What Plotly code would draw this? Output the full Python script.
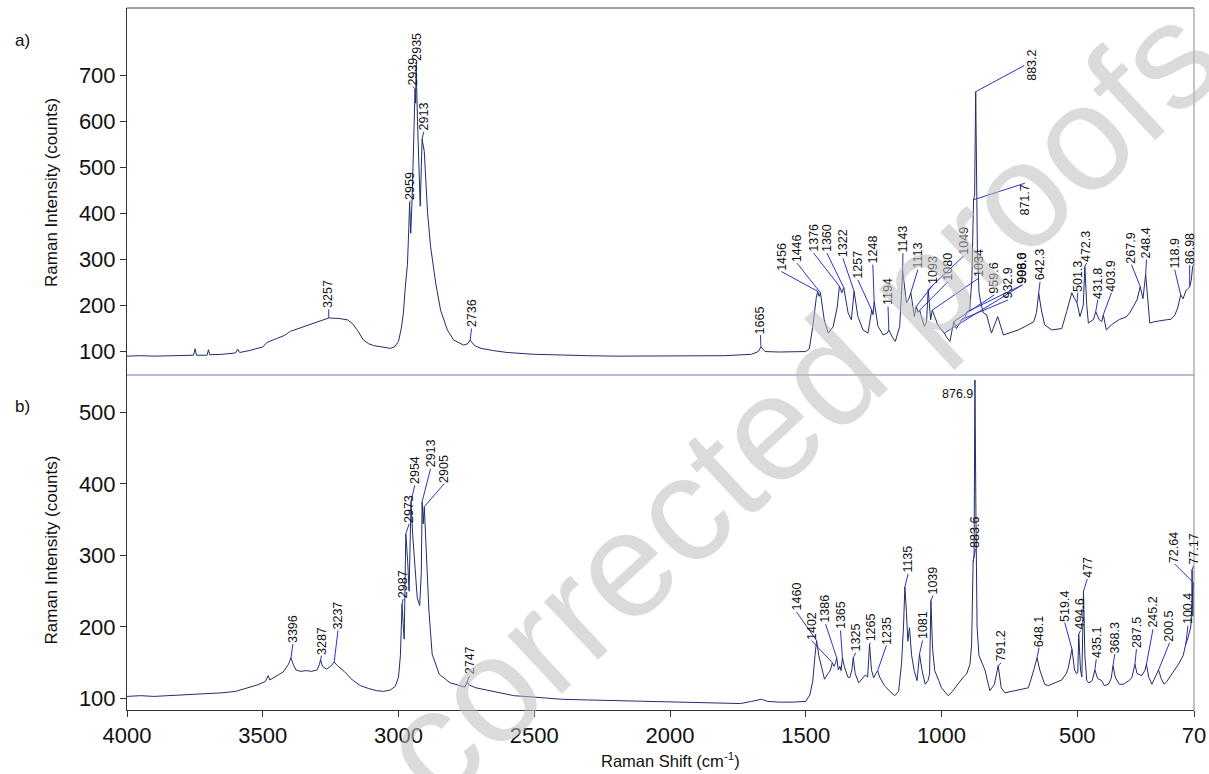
import plotly.graph_objects as go

# ---------------- spectrum a (top) ----------------
shift_a = [4000, 3950, 3900, 3850, 3800, 3755, 3749, 3744, 3705, 3700, 3695, 3650, 3600, 3592, 3585,
           3550, 3500, 3484, 3450, 3420, 3398, 3370, 3340, 3300, 3257, 3220, 3188, 3170, 3151, 3129,
           3110, 3092, 3060, 3030, 3015, 3000, 2990, 2982, 2975, 2967, 2962, 2959, 2955, 2950, 2944,
           2939, 2937, 2935, 2930, 2925, 2920, 2916, 2913, 2905, 2893, 2882, 2863, 2845, 2820, 2797,
           2760, 2745, 2736, 2720, 2697, 2650, 2600, 2500, 2400, 2300, 2200, 2100, 2000, 1900, 1800,
           1700, 1675, 1665, 1650, 1600, 1550, 1500, 1487, 1474, 1461, 1456, 1451, 1446, 1432, 1417,
           1399, 1384, 1376, 1367, 1360, 1344, 1332, 1322, 1308, 1289, 1271, 1257, 1252, 1248, 1234,
           1215, 1200, 1194, 1180, 1170, 1154, 1147, 1143, 1129, 1120, 1113, 1100, 1093, 1086, 1080,
           1074, 1063, 1055, 1049, 1040, 1034, 1015, 1000, 990, 980, 969, 955, 945, 935, 925,
           915, 907, 896, 888, 882, 878, 874, 868, 862, 855, 846, 834, 816, 793, 772,
           745, 717, 690, 660, 650, 642, 632, 620, 594, 557, 539, 520, 510, 501, 490,
           478, 472, 465, 459, 440, 432, 420, 410, 404, 393, 370, 344, 320, 307, 290,
           280, 268, 258, 248, 240, 233, 215, 190, 172, 155, 140, 130, 119, 110, 100,
           90, 86, 80, 75, 70]
int_a = [90, 91, 90, 91, 91, 92, 106, 92, 92, 104, 93, 94, 97, 105, 98,
         102, 110, 120, 128, 135, 144, 150, 157, 164, 173, 172, 169, 161, 146, 125,
         117, 113, 110, 107, 110, 122, 150, 183, 240, 290, 370, 424, 357, 430, 560,
         671, 640, 722, 600, 480, 416, 500, 562, 535, 402, 329, 249, 190, 147, 125,
         114, 117, 125, 113, 107, 102, 98, 94, 92, 91, 90, 90, 90, 90, 91,
         94, 100, 110, 100, 99, 99, 100, 106, 155, 218, 231, 220, 228, 169, 140,
         154, 197, 242, 228, 239, 184, 169, 231, 176, 147, 140, 190, 180, 209, 155,
         136, 140, 147, 130, 122, 155, 220, 275, 206, 215, 228, 176, 198, 185, 190,
         175, 155, 165, 235, 169, 190, 160, 147, 140, 130, 122, 165, 150, 160, 170,
         172, 186, 190, 260, 430, 440, 665, 330, 230, 205, 184, 180, 140, 176, 136,
         142, 147, 155, 165, 185, 227, 190, 158, 147, 150, 187, 228, 215, 206, 176,
         200, 285, 200, 162, 170, 187, 170, 165, 180, 147, 160, 170, 175, 184, 200,
         212, 241, 215, 268, 200, 162, 165, 168, 169, 170, 180, 195, 223, 215, 232,
         238, 241, 255, 285, 290]

# peak labels of spectrum a
lab_a_text = ["3257", "2959", "2939", "2935", "2913", "2736", "1665", "1456", "1446", "1376",
              "1360", "1322", "1257", "1248", "1194", "1143", "1113", "1093", "1080", "1049",
              "1034", "959.6", "932.9", "998.6", "906.0", "871.7", "883.2", "642.3", "501.3",
              "472.3", "431.8", "403.9", "267.9", "248.4", "118.9", "86.98"]
peak_a_x = [3257, 2959, 2939, 2935, 2913, 2736, 1665, 1456, 1446, 1376,
            1360, 1322, 1257, 1248, 1194, 1143, 1113, 1093, 1080, 1049,
            1034, 955, 925, 990, 907, 882, 874, 642, 501,
            472, 432, 404, 268, 248, 119, 86]
peak_a_y = [173, 424, 671, 722, 562, 125, 110, 231, 228, 242,
            239, 231, 190, 209, 147, 275, 228, 198, 190, 235,
            190, 165, 170, 140, 186, 430, 665, 227, 206,
            285, 187, 180, 241, 268, 223, 241]
lab_a_x = [3257, 2957, 2947, 2932, 2907, 2731, 1667, 1590, 1532, 1471,
           1422, 1363, 1308, 1253, 1197, 1142, 1087, 1031, 976, 918,
           862, 806, 755, 702, 702, 693, 695, 637, 498,
           465, 424, 374, 300, 245, 141, 86]
lab_a_y = [192, 428, 676, 730, 578, 150, 136, 274, 292, 314,
           314, 303, 256, 289, 198, 314, 278, 245, 252, 308,
           260, 223, 212, 245, 245, 466, 722, 252, 228,
           293, 213, 228, 289, 300, 278, 288]
lab_a_xanchor = ["center"] * 26 + ["left"] + ["center"] * 9
lab_a_yanchor = ["bottom"] * 25 + ["top", "middle"] + ["bottom"] * 9

# ---------------- spectrum b (bottom) ----------------
shift_b = [4000, 3950, 3900, 3850, 3800, 3750, 3700, 3650, 3600, 3560, 3520, 3490, 3480, 3474, 3450,
           3425, 3405, 3396, 3388, 3378, 3360, 3340, 3320, 3300, 3292, 3287, 3280, 3265, 3250, 3237,
           3225, 3200, 3170, 3140, 3110, 3080, 3055, 3030, 3012, 3000, 2993, 2987, 2983, 2979, 2976,
           2973, 2966, 2961, 2957, 2954, 2948, 2940, 2931, 2922, 2916, 2913, 2909, 2905, 2898, 2888,
           2876, 2850, 2810, 2770, 2755, 2747, 2740, 2715, 2650, 2575, 2500, 2400, 2300, 2200, 2100,
           2000, 1900, 1800, 1740, 1700, 1664, 1640, 1600, 1550, 1500, 1485, 1474, 1466, 1460, 1452,
           1445, 1431, 1418, 1410, 1402, 1396, 1390, 1386, 1380, 1374, 1370, 1365, 1358, 1345, 1338,
           1330, 1325, 1318, 1305, 1290, 1280, 1272, 1265, 1258, 1250, 1242, 1235, 1228, 1210, 1190,
           1172, 1158, 1147, 1140, 1135, 1129, 1124, 1118, 1110, 1100, 1090, 1081, 1072, 1060, 1050,
           1044, 1039, 1033, 1025, 1010, 1000, 985, 975, 960, 940, 920, 908, 895, 889, 883.6,
           880, 876.9, 873, 869, 862, 850, 840, 822, 805, 791.2, 780, 766, 740, 700, 680,
           660, 648.1, 638, 620, 606, 580, 557, 540, 533, 519.4, 510, 503, 498, 494.6, 488,
           483, 477, 472, 465, 457, 445, 435.1, 425, 410, 400, 385, 375, 368.3, 360, 345,
           330, 310, 299, 287.5, 280, 262, 250, 245.2, 237, 225, 219, 210, 200.5, 191, 180,
           170, 150, 127, 110, 100.4, 92, 86, 82, 78, 77.17, 74, 72.64, 70]
int_b = [103, 104, 103, 104, 105, 105, 107, 108, 110, 114, 119, 124, 132, 126, 131,
         137, 148, 157, 148, 140, 138, 139, 138, 140, 147, 154, 145, 141, 145, 151,
         146, 138, 126, 118, 114, 111, 110, 112, 117, 130, 160, 232, 205, 183, 260,
         330, 290, 250, 320, 375, 330, 288, 241, 230, 276, 375, 344, 368, 298, 223,
         162, 134, 122, 117, 116, 124, 119, 115, 110, 104, 102, 99, 98, 97, 96,
         95, 95, 94, 93, 96, 99, 96, 95, 95, 96, 105, 125, 160, 181, 160,
         150, 127, 135, 139, 150, 145, 150, 157, 140, 145, 139, 157, 145, 130, 129,
         140, 157, 135, 122, 128, 133, 130, 176, 140, 129, 135, 139, 130, 118, 110,
         104, 110, 150, 200, 256, 220, 180, 199, 160, 138, 125, 162, 140, 120, 125,
         134, 237, 170, 139, 125, 115, 108, 104, 110, 120, 130, 134, 148, 176, 291,
         300, 545, 350, 200, 160, 148, 140, 111, 120, 146, 115, 108, 110, 113, 115,
         140, 157, 140, 120, 118, 122, 126, 135, 143, 169, 140, 135, 136, 190, 140,
         130, 250, 160, 125, 122, 125, 140, 128, 125, 118, 120, 128, 146, 130, 120,
         120, 125, 129, 148, 135, 132, 140, 148, 130, 120, 125, 130, 140, 128, 120,
         124, 135, 148, 160, 176, 185, 195, 200, 230, 280, 215, 262, 255]

lab_b_text = ["3396", "3287", "3237", "2987", "2973", "2954", "2913", "2905", "2747", "1460",
              "1402", "1386", "1365", "1325", "1265", "1235", "1135", "1081", "1039", "883.6",
              "876.9", "791.2", "648.1", "519.4", "494.6", "477", "435.1", "368.3", "287.5", "245.2",
              "200.5", "100.4", "72.64", "77.17"]
peak_b_x = [3396, 3287, 3237, 2987, 2973, 2954, 2913, 2905, 2747, 1460,
            1402, 1386, 1365, 1325, 1265, 1235, 1135, 1081, 1039, 883.6,
            876.9, 791.2, 648.1, 519.4, 494.6, 477, 435.1, 368.3, 287.5, 245.2,
            200.5, 100.4, 72.64, 77.17]
peak_b_y = [157, 154, 151, 232, 330, 375, 375, 368, 124, 181,
            150, 157, 157, 157, 176, 139, 256, 162, 237, 291,
            545, 146, 157, 169, 190, 250, 140, 146, 148, 148,
            140, 176, 262, 280]
lab_b_x = [3389, 3284, 3223, 2983, 2961, 2940, 2882, 2832, 2738, 1534,
           1479, 1427, 1372, 1316, 1261, 1203, 1123, 1070, 1031, 875,
           882, 780, 641, 546, 488, 463, 430, 362, 282, 221,
           160, 92, 141, 71]
lab_b_y = [176, 160, 195, 239, 344, 398, 421, 400, 132, 221,
           181, 204, 195, 164, 178, 174, 274, 181, 244, 309,
           526, 150, 171, 206, 195, 267, 155, 162, 169, 197,
           178, 202, 288, 286]
lab_b_angle = [-90] * 20 + [0] + [-90] * 13
lab_b_xanchor = ["center"] * 20 + ["right"] + ["center"] * 13
lab_b_yanchor = ["bottom"] * 20 + ["middle"] + ["bottom"] * 13

x_ticks = [4000, 3500, 3000, 2500, 2000, 1500, 1000, 500, 70]
y_ticks_a = [100, 200, 300, 400, 500, 600, 700]
y_ticks_b = [100, 200, 300, 400, 500]

LINE = "#1f2d6e"
LEAD = "#2f2fd0"
FONT = "Liberation Sans, Arial, sans-serif"


def leaders(px, py, lx, ly, angles=None):
    xs, ys = [], []
    for i in range(len(px)):
        if angles is not None and angles[i] == 0:
            continue
        xs += [px[i], lx[i], None]
        ys += [py[i], ly[i], None]
    return xs, ys


fig = go.Figure()
fig.add_trace(go.Scatter(x=shift_a, y=int_a, mode="lines", line=dict(color=LINE, width=1),
                         xaxis="x2", yaxis="y2", hoverinfo="skip"))
fa_x, fa_y = leaders(peak_a_x, peak_a_y, lab_a_x, lab_a_y)
fig.add_trace(go.Scatter(x=fa_x, y=fa_y, mode="lines", line=dict(color=LEAD, width=1),
                         xaxis="x2", yaxis="y2", hoverinfo="skip"))
fig.add_trace(go.Scatter(x=shift_b, y=int_b, mode="lines", line=dict(color=LINE, width=1),
                         xaxis="x", yaxis="y", hoverinfo="skip"))
fb_x, fb_y = leaders(peak_b_x, peak_b_y, lab_b_x, lab_b_y, lab_b_angle)
fig.add_trace(go.Scatter(x=fb_x, y=fb_y, mode="lines", line=dict(color=LEAD, width=1),
                         xaxis="x", yaxis="y", hoverinfo="skip"))

ann = []
for t, x, y, xa, ya in zip(lab_a_text, lab_a_x, lab_a_y, lab_a_xanchor, lab_a_yanchor):
    ann.append(dict(x=x, y=y, xref="x2", yref="y2", text=t, showarrow=False, textangle=-90,
                    xanchor=xa, yanchor=ya, borderpad=0,
                    font=dict(family=FONT, size=12.5, color="#111")))
for t, x, y, ang, xa, ya in zip(lab_b_text, lab_b_x, lab_b_y, lab_b_angle, lab_b_xanchor, lab_b_yanchor):
    ann.append(dict(x=x, y=y, xref="x", yref="y", text=t, showarrow=False, textangle=ang,
                    xanchor=xa, yanchor=ya, borderpad=0,
                    font=dict(family=FONT, size=12.5, color="#111")))

# panel letters and axis titles
ann += [
    dict(x=-0.0984, y=0.954, xref="paper", yref="paper", text="a)", showarrow=False,
         xanchor="center", yanchor="middle", font=dict(family=FONT, size=17, color="#111")),
    dict(x=-0.0984, y=0.433, xref="paper", yref="paper", text="b)", showarrow=False,
         xanchor="center", yanchor="middle", font=dict(family=FONT, size=17, color="#111")),
    dict(x=-0.0703, y=0.738, xref="paper", yref="paper", text="Raman Intensity (counts)",
         showarrow=False, textangle=-90, xanchor="center", yanchor="middle",
         font=dict(family=FONT, size=17, color="#111")),
    dict(x=-0.0703, y=0.2286, xref="paper", yref="paper", text="Raman Intensity (counts)",
         showarrow=False, textangle=-90, xanchor="center", yanchor="middle",
         font=dict(family=FONT, size=17, color="#111")),
    dict(x=0.509, y=-0.0712, xref="paper", yref="paper", text="Raman Shift (cm<sup>-1</sup>)",
         showarrow=False, xanchor="center", yanchor="middle",
         font=dict(family=FONT, size=16.5, color="#111")),
    dict(x=0.63, y=0.44, xref="paper", yref="paper", text="corrected proofs",
         showarrow=False, textangle=-43, xanchor="center", yanchor="middle",
         font=dict(family=FONT, size=150, color="rgba(190,190,190,0.55)")),
]

SPLIT = 0.4772
fig.update_layout(
    width=1209, height=774,
    margin=dict(l=127, r=15, t=8, b=64, autoexpand=False),
    paper_bgcolor="white", plot_bgcolor="white",
    showlegend=False,
    font=dict(family=FONT, color="#111"),
    xaxis=dict(domain=[0, 1], range=[4000, 70], anchor="y", tickvals=x_ticks,
               ticktext=[str(v) for v in x_ticks], ticks="outside", ticklen=6,
               tickcolor="#333", showline=True, linecolor="#333", linewidth=1, automargin=False,
               showgrid=False, zeroline=False, tickfont=dict(size=22, family=FONT)),
    yaxis=dict(domain=[0, SPLIT], range=[84, 552], anchor="x", tickvals=y_ticks_b,
               ticks="outside", ticklen=6, tickcolor="#333", showline=True, linecolor="#333",
               automargin=False,
               showgrid=False, zeroline=False, tickfont=dict(size=22, family=FONT)),
    xaxis2=dict(domain=[0, 1], range=[4000, 70], anchor="y2", showticklabels=False,
                automargin=False,
                showline=False, showgrid=False, zeroline=False, ticks=""),
    yaxis2=dict(domain=[SPLIT, 1], range=[49, 847], anchor="x2", tickvals=y_ticks_a,
                ticks="outside", ticklen=6, tickcolor="#333", showline=True, linecolor="#333",
                automargin=False,
                showgrid=False, zeroline=False, tickfont=dict(size=22, family=FONT)),
    annotations=ann,
    shapes=[
        dict(type="line", xref="paper", yref="paper", x0=0, x1=1, y0=1, y1=1,
             line=dict(color="#444", width=1)),
        dict(type="line", xref="paper", yref="paper", x0=1, x1=1, y0=0, y1=1,
             line=dict(color="#888", width=1)),
        dict(type="line", xref="paper", yref="paper", x0=0, x1=1, y0=SPLIT, y1=SPLIT,
             line=dict(color="#6f7fa8", width=1)),
    ],
)

fig.write_html("out.html")
